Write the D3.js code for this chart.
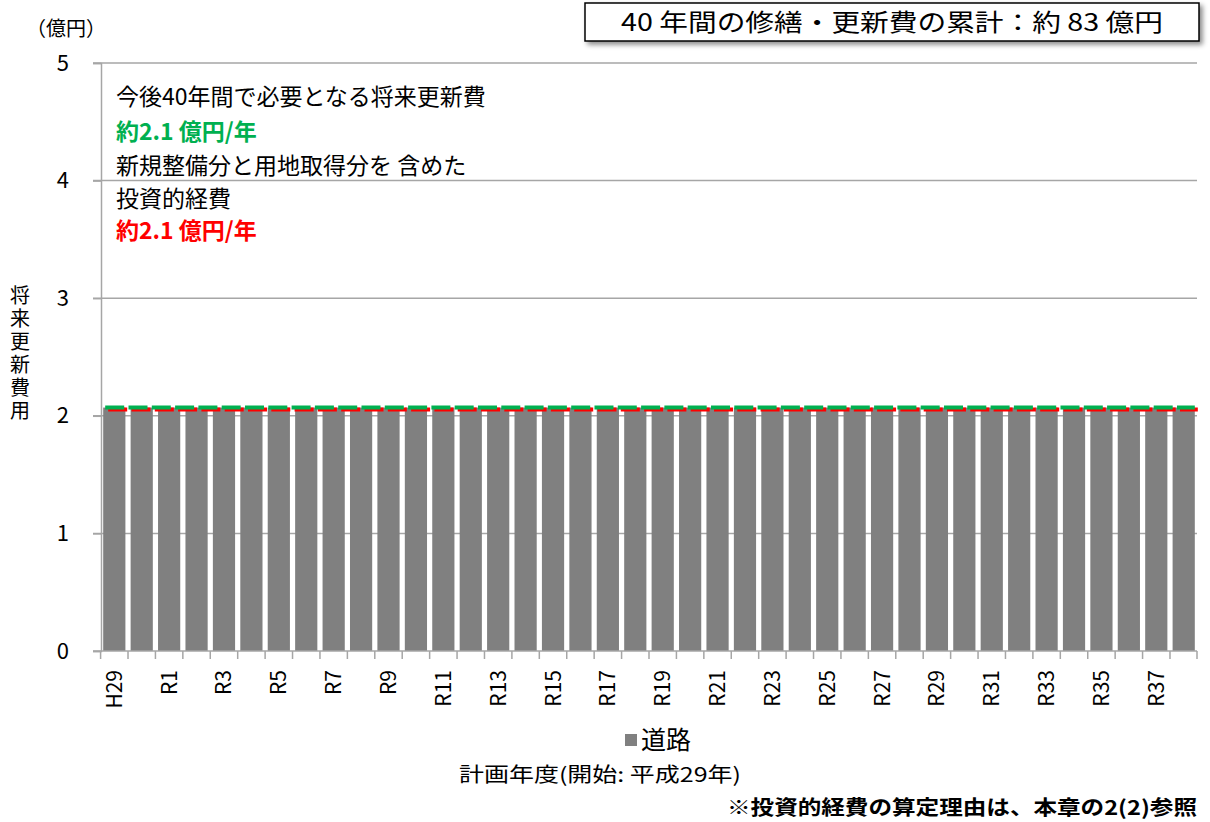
<!DOCTYPE html>
<html lang="ja">
<head>
<meta charset="utf-8">
<script src="https://cdn.jsdelivr.net/npm/d3@7"></script>
<style>
  html, body { margin: 0; padding: 0; background: #fff; }
  svg { display: block; }
  text { font-family: "Noto Sans CJK JP", "Noto Sans", sans-serif; }
</style>
</head>
<body>
<svg id="chart" width="1210" height="822"></svg>
<script>
// Fiscal years of the 40-year plan (H29 = first year)
const years = ["H29", "H30"].concat(d3.range(1, 39).map(n => "R" + n));
// Road renewal cost per year (億円)
const roadCost = [
  2.07, 2.07, 2.07, 2.07, 2.07, 2.07, 2.07, 2.07, 2.07, 2.07,
  2.07, 2.07, 2.07, 2.07, 2.07, 2.07, 2.07, 2.07, 2.07, 2.07,
  2.07, 2.07, 2.07, 2.07, 2.07, 2.07, 2.07, 2.07, 2.07, 2.07,
  2.07, 2.07, 2.07, 2.07, 2.07, 2.07, 2.07, 2.07, 2.07, 2.07
];
// Average annual renewal cost over 40 years (green) and investment expense (red)
const renewalAvg = years.map(() => 2.07);
const investmentAvg = years.map(() => 2.07);
const yTicks = [0, 1, 2, 3, 4, 5];
// Year labels shown on the axis (every other year)
const shownYears = years.filter((d, i) => i % 2 === 0);

const svg = d3.select("#chart");
const margin = { left: 101, right: 13, top: 63, bottom: 171 };
const W = 1210, H = 822;
const x = d3.scaleBand().domain(years).range([margin.left, W - margin.right]).paddingInner(0.19).paddingOuter(0.08);
const y = d3.scaleLinear().domain([0, 5]).range([H - margin.bottom, margin.top]);

// Horizontal gridlines
svg.append("g")
  .selectAll("line").data(yTicks.filter(d => d > 0)).join("line")
  .attr("x1", margin.left - 8).attr("x2", W - margin.right)
  .attr("y1", d => y(d)).attr("y2", d => y(d))
  .attr("stroke", "#a6a6a6").attr("stroke-width", 1.5);

// Y axis
const yAxis = svg.append("g").attr("transform", `translate(${margin.left},0)`)
  .call(d3.axisLeft(y).tickValues(yTicks).tickFormat(d3.format("d")).tickSize(8).tickPadding(24));
yAxis.select(".domain").attr("stroke", "#a6a6a6").attr("stroke-width", 1.5);
yAxis.selectAll(".tick line").attr("stroke", "#a6a6a6").attr("stroke-width", 1.5);
yAxis.selectAll(".tick text")
  .attr("font-family", "'Liberation Sans', Arial, sans-serif")
  .attr("font-size", 22).attr("fill", "#000");

// Bars
svg.append("g")
  .selectAll("rect").data(roadCost).join("rect")
  .attr("x", (d, i) => x(years[i]))
  .attr("width", x.bandwidth())
  .attr("y", d => y(d))
  .attr("height", d => y(0) - y(d))
  .attr("fill", "#808080");

// X axis with ticks between categories
const step = x.step();
const xAxisG = svg.append("g").attr("transform", `translate(0,${y(0)})`);
xAxisG.append("line")
  .attr("x1", margin.left - 8).attr("x2", W - margin.right)
  .attr("stroke", "#a6a6a6").attr("stroke-width", 1.5);
const boundaries = years.map(d => x(d) - step * x.paddingInner() / 2).concat([W - margin.right]);
xAxisG.selectAll("line.tk").data(boundaries).join("line").attr("class", "tk")
  .attr("x1", d => d).attr("x2", d => d).attr("y1", 0).attr("y2", 8)
  .attr("stroke", "#a6a6a6").attr("stroke-width", 1.5);
xAxisG.selectAll("text").data(shownYears).join("text")
  .attr("transform", d => `translate(${x(d) + x.bandwidth() / 2 + 7.5},19) rotate(-90)`)
  .attr("text-anchor", "end")
  .attr("font-family", "'Liberation Sans', Arial, sans-serif")
  .attr("font-size", 21).attr("fill", "#000")
  .text(d => d);

// Average lines (dashed)
const lineX0 = x(years[0]) + 2;
const lineX1 = x(years[years.length - 1]) + x.bandwidth();
const lineGen = vals => {
  const n = vals.length;
  return d3.line()
    .x((d, i) => lineX0 + (lineX1 - lineX0) * i / (n - 1))
    .y(d => y(d))(vals);
};
svg.append("path").attr("d", lineGen(investmentAvg))
  .attr("transform", "translate(3,2)")
  .attr("fill", "none").attr("stroke", "#ff0000").attr("stroke-width", 4)
  .attr("stroke-dasharray", "19,4.3");
svg.append("path").attr("d", lineGen(renewalAvg))
  .attr("fill", "none").attr("stroke", "#00b050").attr("stroke-width", 4)
  .attr("stroke-dasharray", "19,4.3");

// Unit label
svg.append("text").attr("x", 26).attr("y", 36).attr("font-size", 20).attr("fill", "#000").text("（億円）");

// Y axis title (vertical)
svg.append("text")
  .attr("x", 20).attr("y", 285)
  .attr("font-size", 20).attr("fill", "#000")
  .style("writing-mode", "vertical-rl")
  .style("letter-spacing", "3px")
  .text("将来更新費用");

// Annotation block
const note = svg.append("g").attr("font-size", 23);
note.append("text").attr("x", 116).attr("y", 105).attr("fill", "#000").text("今後40年間で必要となる将来更新費");
note.append("text").attr("x", 116).attr("y", 140).attr("fill", "#00b050").attr("font-weight", "bold").text("約2.1 億円/年");
note.append("text").attr("x", 116).attr("y", 174).attr("fill", "#000").text("新規整備分と用地取得分を 含めた");
note.append("text").attr("x", 116).attr("y", 207).attr("fill", "#000").text("投資的経費");
note.append("text").attr("x", 116).attr("y", 239).attr("fill", "#ff0000").attr("font-weight", "bold").text("約2.1 億円/年");

// Total box at the top right
const box = svg.append("g");
const defs = svg.append("defs");
const f = defs.append("filter").attr("id", "shadow").attr("x", "-5%").attr("y", "-30%").attr("width", "115%").attr("height", "180%");
f.append("feDropShadow").attr("dx", 3).attr("dy", 3).attr("stdDeviation", 2.5).attr("flood-color", "#000").attr("flood-opacity", 0.45);
box.append("rect").attr("x", 585).attr("y", 3).attr("width", 614).attr("height", 38)
  .attr("fill", "#fff").attr("stroke", "#000").attr("stroke-width", 1.5).attr("filter", "url(#shadow)");
box.append("text").attr("x", 892).attr("y", 31).attr("text-anchor", "middle")
  .attr("font-size", 24).attr("fill", "#000")
  .attr("textLength", 542).attr("lengthAdjust", "spacingAndGlyphs")
  .text("40 年間の修繕・更新費の累計：約 83 億円");

// Legend
const legend = svg.append("g");
legend.append("rect").attr("x", 625).attr("y", 734).attr("width", 12).attr("height", 12).attr("fill", "#808080");
legend.append("text").attr("x", 641).attr("y", 749).attr("font-size", 25).attr("fill", "#000").text("道路");

// X axis title
svg.append("text").attr("x", 600).attr("y", 782).attr("text-anchor", "middle")
  .attr("font-size", 20).attr("fill", "#000")
  .attr("textLength", 282).attr("lengthAdjust", "spacingAndGlyphs")
  .text("計画年度(開始: 平成29年)");

// Footnote
svg.append("text").attr("x", 1197).attr("y", 815).attr("text-anchor", "end")
  .attr("font-size", 20).attr("font-weight", "bold").attr("fill", "#000")
  .attr("textLength", 470).attr("lengthAdjust", "spacingAndGlyphs")
  .text("※投資的経費の算定理由は、本章の2(2)参照");
</script>
</body>
</html>
